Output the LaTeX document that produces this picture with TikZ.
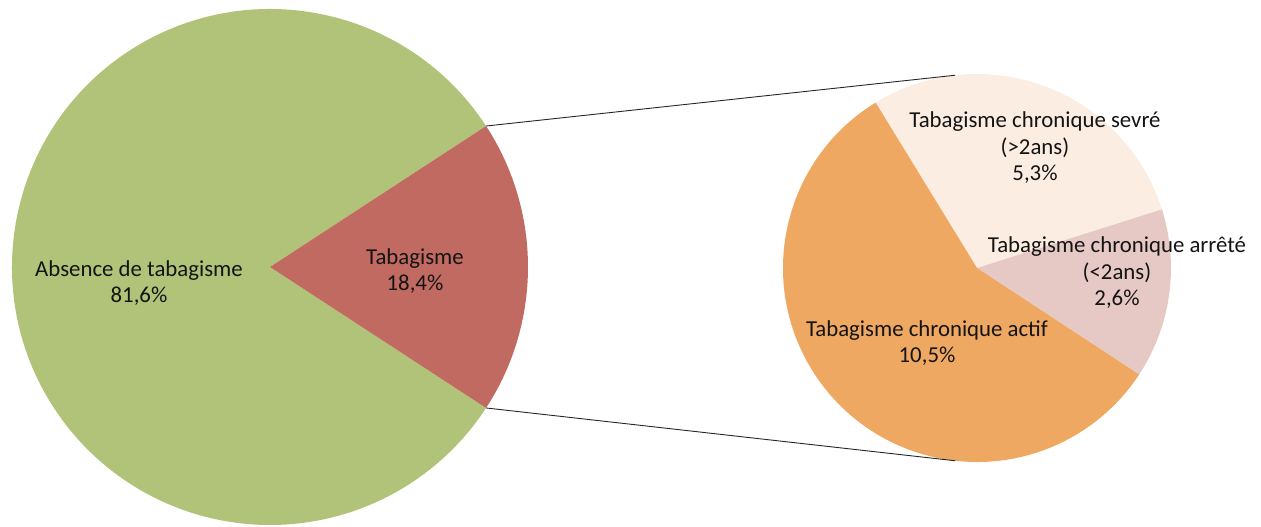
\documentclass[tikz,border=0pt]{standalone}
\usepackage{fontspec}
\setmainfont{Carlito}
\usetikzlibrary{calc}
\definecolor{absgreen}{RGB}{177,195,120}
\definecolor{tabred}{RGB}{192,106,97}
\definecolor{actorange}{RGB}{238,168,98}
\definecolor{sevcream}{RGB}{251,237,226}
\definecolor{arrpink}{RGB}{230,201,197}
\definecolor{txt}{RGB}{20,20,20}
\begin{document}
\begin{tikzpicture}[x=1pt,y=1pt,
  lbl/.style={align=center,font=\fontsize{22.8}{26.5}\selectfont,text=txt,inner sep=0pt},
  zoomline/.style={draw=black!85,line width=0.9pt}]
\useasboundingbox (0,0) rectangle (1261,527);
% big pie
\coordinate (bc) at (270,260);
\fill[absgreen] (bc) -- ++(33.12:258) arc[start angle=33.12,end angle=326.88,radius=258] -- cycle;
\fill[tabred] (bc) -- ++(-33.12:258) arc[start angle=-33.12,end angle=33.12,radius=258] -- cycle;
% small pie
\coordinate (sc) at (977,259);
\fill[sevcream] (sc) -- ++(17.6:194) arc[start angle=17.6,end angle=121.5,radius=194] -- cycle;
\fill[arrpink] (sc) -- ++(-33.3:194) arc[start angle=-33.3,end angle=17.6,radius=194] -- cycle;
\fill[actorange] (sc) -- ++(121.5:194) arc[start angle=121.5,end angle=326.7,radius=194] -- cycle;
% connector anchors
\coordinate (bigTop) at ($(bc)+(33.12:258)$);
\coordinate (bigBot) at ($(bc)+(-33.12:258)$);
\coordinate (smallTop) at ($(sc)+(96.5:194)$);
\coordinate (smallBot) at ($(sc)+(-96.5:194)$);
\draw[zoomline] (bigTop) -- (smallTop);
\draw[zoomline] (bigBot) -- (smallBot);
% labels
\node[lbl] (absence) at (139,244) {Absence de tabagisme\\81,6\%};
\node[lbl] (tabag) at (415,256) {Tabagisme\\18,4\%};
\node[lbl] (sevre) at (1035,379) {Tabagisme chronique sevré\\(>2ans)\\5,3\%};
\node[lbl] (arrete) at (1117,254) {Tabagisme chronique arrêté\\(<2ans)\\2,6\%};
\node[lbl] (actif) at (927,184) {Tabagisme chronique actif\\10,5\%};
\end{tikzpicture}
\end{document}
